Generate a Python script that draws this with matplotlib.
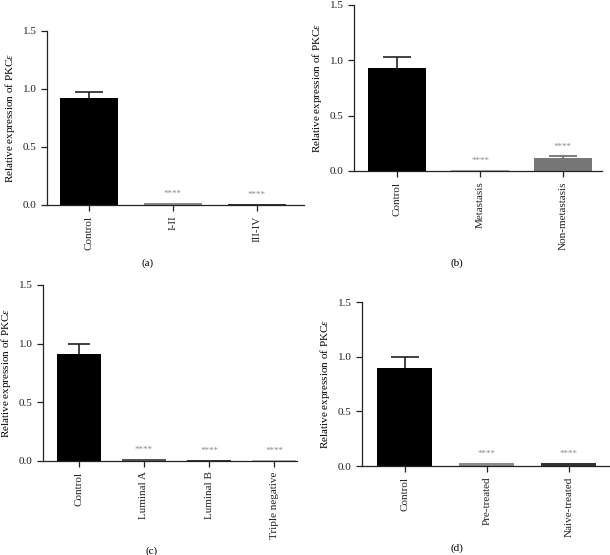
import matplotlib
matplotlib.use("Agg")
import matplotlib.pyplot as plt

plt.rcParams['font.family'] = ['Liberation Serif', 'DejaVu Serif']
plt.rcParams['mathtext.fontset'] = 'custom'
plt.rcParams['mathtext.it'] = 'Liberation Serif:italic'
plt.rcParams['mathtext.rm'] = 'Liberation Serif'

# panel data
cats_a = ["Control", "I-II", "III-IV"]
vals_a = [0.92, 0.015, 0.01]
errs_a = [0.05, 0.0, 0.0]
cols_a = ["#000000", "#8a8a8a", "#333333"]

cats_b = ["Control", "Metastasis", "Non-metastasis"]
vals_b = [0.93, 0.01, 0.12]
errs_b = [0.10, 0.0, 0.02]
cols_b = ["#000000", "#aaaaaa", "#777777"]

cats_c = ["Control", "Luminal A", "Luminal B", "Triple negative"]
vals_c = [0.91, 0.015, 0.01, 0.006]
errs_c = [0.09, 0.0, 0.0, 0.0]
cols_c = ["#000000", "#555555", "#333333", "#bbbbbb"]

cats_d = ["Control", "Pre-treated", "Naive-treated"]
vals_d = [0.90, 0.03, 0.025]
errs_d = [0.10, 0.0, 0.0]
cols_d = ["#000000", "#8a8a8a", "#333333"]

W, H = 610, 555
fig = plt.figure(figsize=(W / 100, H / 100), dpi=100)


def panel(box, xlim, width, cats, vals, errs, cols, caption, cap_xy):
    left, right, y0, ytop = box
    ax = fig.add_axes([left / W, 1 - y0 / H, (right - left) / W, (y0 - ytop) / H])
    x = list(range(len(cats)))
    ax.bar(x, vals, width=width, color=cols, zorder=2)
    for xi, v, e in zip(x, vals, errs):
        if e > 0:
            ec = '#222222' if xi == 0 else '#666666'
            ax.vlines(xi, v, v + e, color=ec, linewidth=1.2, zorder=1)
            ax.hlines(v + e, xi - 0.17, xi + 0.17, color=ec, linewidth=1.2, zorder=1)
        if xi > 0:
            ax.text(xi, v + e + 0.045, "****", ha='center', va='bottom',
                    fontsize=6.5, color='#888888')
    ax.set_xlim(*xlim)
    ax.set_ylim(0, 1.5)
    ax.set_yticks([0, 0.5, 1.0, 1.5])
    ax.set_yticklabels(["0.0", "0.5", "1.0", "1.5"])
    ax.set_xticks(x)
    ax.set_xticklabels(cats, rotation=90)
    ax.tick_params(labelsize=8, length=4, width=0.9, colors='#222222')
    for s in ['top', 'right']:
        ax.spines[s].set_visible(False)
    for s in ['left', 'bottom']:
        ax.spines[s].set_linewidth(0.9)
        ax.spines[s].set_color('#222222')
    ax.set_ylabel("Relative expression of PKC$\\mathit{\\varepsilon}$", fontsize=8, labelpad=4)
    fig.text(cap_xy[0] / W, 1 - cap_xy[1] / H, caption, ha='center', va='center', fontsize=8)
    return ax


panel((47, 304, 205, 31), (-0.5, 2.56), 0.69, cats_a, vals_a, errs_a, cols_a, "(a)", (148, 263))
panel((354, 602, 171, 5), (-0.52, 2.47), 0.70, cats_b, vals_b, errs_b, cols_b, "(b)", (457, 263))
panel((43, 297, 461, 285), (-0.55, 3.35), 0.68, cats_c, vals_c, errs_c, cols_c, "(c)", (152, 551))
panel((362, 609, 466, 302), (-0.52, 2.49), 0.67, cats_d, vals_d, errs_d, cols_d, "(d)", (457, 548))

fig.savefig("out.png", dpi=100)
